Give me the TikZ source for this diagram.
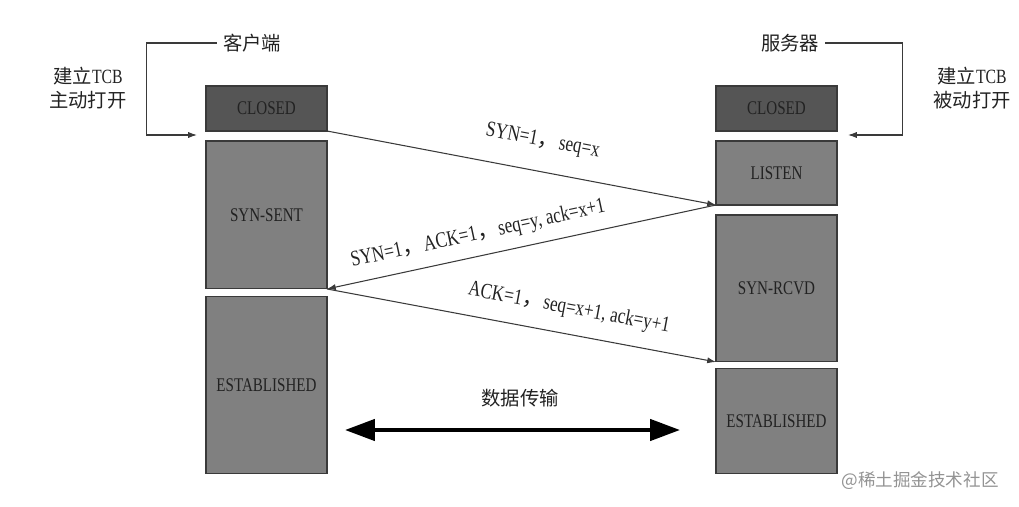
\documentclass[tikz,border=0pt]{standalone}
\usepackage{fontspec}
\setmainfont{Liberation Serif}[FakeStretch=0.78]
\newfontfamily\cjk{Noto Sans CJK SC}
\usetikzlibrary{arrows.meta, positioning}

\definecolor{stdark}{HTML}{555555}
\definecolor{stgray}{HTML}{808080}
\definecolor{stline}{HTML}{3A3A3A}
\definecolor{sttext}{HTML}{222222}

\begin{document}
\begin{tikzpicture}[x=0.02cm, y=-0.02cm,
        node distance=0.2cm,
        state/.style={rectangle, draw=stline, line width=0.6pt, fill=stgray, text=sttext, minimum width=2.42cm, outer sep=0pt, font=\fontsize{11}{13}\selectfont},
        closed/.style={state, fill=stdark, minimum height=0.9cm},
        msg/.style={-{Latex[length=5pt,width=3.5pt]}, line width=0.6pt, color=stline},
        msgtext/.style={sloped, inner sep=0pt, text=sttext, font=\fontsize{12.5}{14}\selectfont},
        cjklabel/.style={text=sttext, align=center, font=\cjk\fontsize{11}{14}\selectfont},
        sidetext/.style={text=sttext, align=center, font=\fontsize{11.5}{14}\selectfont},
        bracket/.style={-{Latex[length=5pt,width=3.5pt]}, line width=0.6pt, color=stline},
        dataflow/.style={{Triangle[length=17pt,width=12pt]}-{Triangle[length=17pt,width=12pt]}, line width=2.3pt, color=black}
    ]
    \useasboundingbox (0,0) rectangle (1019,507);

    % Client states
    \node[closed] (cl1) at (266.5,108.5) {CLOSED};
    \node[state, minimum height=2.96cm] (ss) [below=0.2cm of cl1] {SYN-SENT};
    \node[state, minimum height=3.54cm] (es1) [below=0.16cm of ss] {ESTABLISHED};

    % Server states
    \node[closed] (cl2) at (776.5,108.5) {CLOSED};
    \node[state, minimum height=1.28cm] (ls) [below=0.2cm of cl2] {LISTEN};
    \node[state, minimum height=2.94cm] (rc) [below=0.2cm of ls] {SYN-RCVD};
    \node[state, minimum height=2.1cm] (es2) [below=0.14cm of rc] {ESTABLISHED};

    % Headers
    \node[cjklabel] (cli) at (252,43) {客户端};
    \node[cjklabel] (srv) at (790,43) {服务器};
    \node[sidetext] (act) at (88,88) {{\cjk\fontsize{11}{14}\selectfont 建立}TCB\\{\cjk\fontsize{11}{14}\selectfont 主动打开}};
    \node[sidetext] (pas) at (972,88) {{\cjk\fontsize{11}{14}\selectfont 建立}TCB\\{\cjk\fontsize{11}{14}\selectfont 被动打开}};
    \coordinate (cin) at (197,135);
    \coordinate (sin) at (848,135);

    \draw[bracket] (cli.west) -- ++(-70,0) |- (cin);
    \draw[bracket] (srv.east) -- ++(77,0) |- (sin);

    % Handshake
    \draw[msg] (cl1.south east) -- (ls.south west)
        node[msgtext, pos=0.54, above=0.4cm] {SYN=1{\cjk ，}seq=x};
    \draw[msg] (ls.south west) -- (ss.south east)
        node[msgtext, pos=0.6, above=0.22cm] {SYN=1{\cjk ，}ACK=1{\cjk ，}seq=y, ack=x+1};
    \draw[msg] (ss.south east) -- (rc.south west)
        node[msgtext, pos=0.61, above=0.3cm] {ACK=1{\cjk ，}seq=x+1, ack=y+1};

    % Data transfer
    \node[cjklabel] (data) at (520,398) {数据传输};
    \coordinate (dl) at (345,430);
    \coordinate (dr) at (680,430);
    \draw[dataflow] (dl) -- (dr);

    \node[font=\cjk\fontsize{10}{12}\selectfont, text=gray!85] (mark) at (920,481) {@稀土掘金技术社区};
\end{tikzpicture}
\end{document}
